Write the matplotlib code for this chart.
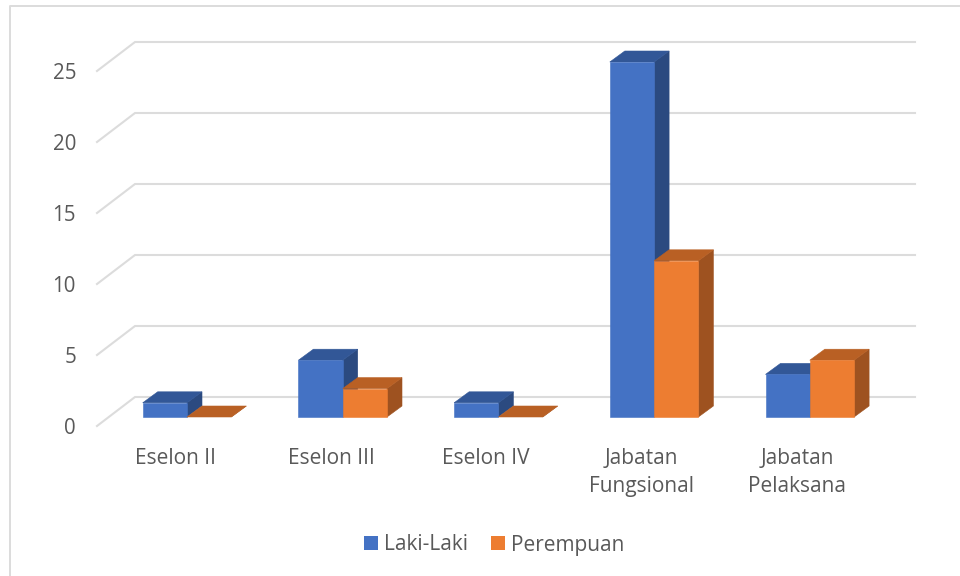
import matplotlib
matplotlib.use("Agg")
import matplotlib.pyplot as plt
from matplotlib.patches import Polygon, Patch

categories = ["Eselon II", "Eselon III", "Eselon IV", "Jabatan\nFungsional", "Jabatan\nPelaksana"]
laki_laki = [1, 4, 1, 25, 3]
perempuan = [0, 2, 0, 11, 4]
y_ticks = [0, 5, 10, 15, 20, 25]
series_names = ["Laki-Laki", "Perempuan"]

FONT = "Open Sans"
TEXT = "#595959"
GRID = "#DCDCDC"
W, H = 960, 576
PX_X = 155.7   # px per category
PX_Y = 14.2    # px per value unit
X0, Y0 = 187.0, 417.0

fig = plt.figure(figsize=(W / 100, H / 100), dpi=100, facecolor="white")
ax = fig.add_axes([0, 0, 1, 1])
ax.set_xlim(-X0 / PX_X, (W - X0) / PX_X)
ax.set_ylim(-(H - Y0) / PX_Y, Y0 / PX_Y)
ax.axis("off")

def dx(px):
    return px / PX_X
def dy(px):
    return px / PX_Y
def pxx(px):
    return (px - X0) / PX_X
def pxy(px):
    return (Y0 - px) / PX_Y

# chart frame (top and left edges)
ax.plot([pxx(W), pxx(9.5), pxx(9.5)], [pxy(6), pxy(6), pxy(H)], color=GRID, lw=1.4, zorder=1)

# gridlines with their floor-to-wall diagonals
back_dy = dy(20)
front_drop = dy(9)
for t in y_ticks:
    yb = t + back_dy
    yf = t - front_drop
    ax.plot([pxx(97), pxx(135), pxx(915)], [yf, yb, yb], color=GRID, lw=1.5,
            solid_joinstyle="miter", zorder=1)
    ax.text(pxx(76), yf - dy(2.5), str(t), ha="right", va="center", family=FONT, fontsize=14.8, color=TEXT)

bar_w = 44.3 / PX_X
d_x, d_y = dx(15), dy(11)

def bar3d(x_left, value, front, top, side, z):
    xr = x_left + bar_w
    style = dict(linewidth=0.4, zorder=z)
    ax.add_patch(Polygon([(xr, 0), (xr + d_x, d_y), (xr + d_x, value + d_y), (xr, value)],
                         facecolor=side, edgecolor=side, **style))
    ax.add_patch(Polygon([(x_left, value), (x_left + d_x, value + d_y), (xr + d_x, value + d_y), (xr, value)],
                         facecolor=top, edgecolor=top, **style))
    if value > 0:
        ax.add_patch(Polygon([(x_left, 0), (xr, 0), (xr, value), (x_left, value)],
                             facecolor=front, edgecolor=front, **style))

for i, (a, b) in enumerate(zip(laki_laki, perempuan)):
    bar3d(i, b, "#ED7D31", "#B96024", "#9E5220", 3 + i * 0.01)
    bar3d(i - bar_w, a, "#4472C4", "#325797", "#2B4A80", 2 + i * 0.01)

label_px = [175.5, 331, 486, 641.5, 797]
for px, lab in zip(label_px, categories):
    ax.text(pxx(px), pxy(447.5), lab, ha="center", va="top", family=FONT, fontsize=15,
            color=TEXT, linespacing=1.47)

handles = [Patch(facecolor="#4472C4"), Patch(facecolor="#ED7D31")]
ax.legend(handles, series_names, loc="center", bbox_to_anchor=(494 / W, 1 - 545 / H),
          ncols=2, frameon=False, handlelength=0.67, handleheight=0.67, handletextpad=0.3,
          columnspacing=1.1, borderpad=0, labelcolor=TEXT,
          prop={"family": FONT, "size": 15})

fig.savefig("out.png", dpi=100, facecolor="white")
